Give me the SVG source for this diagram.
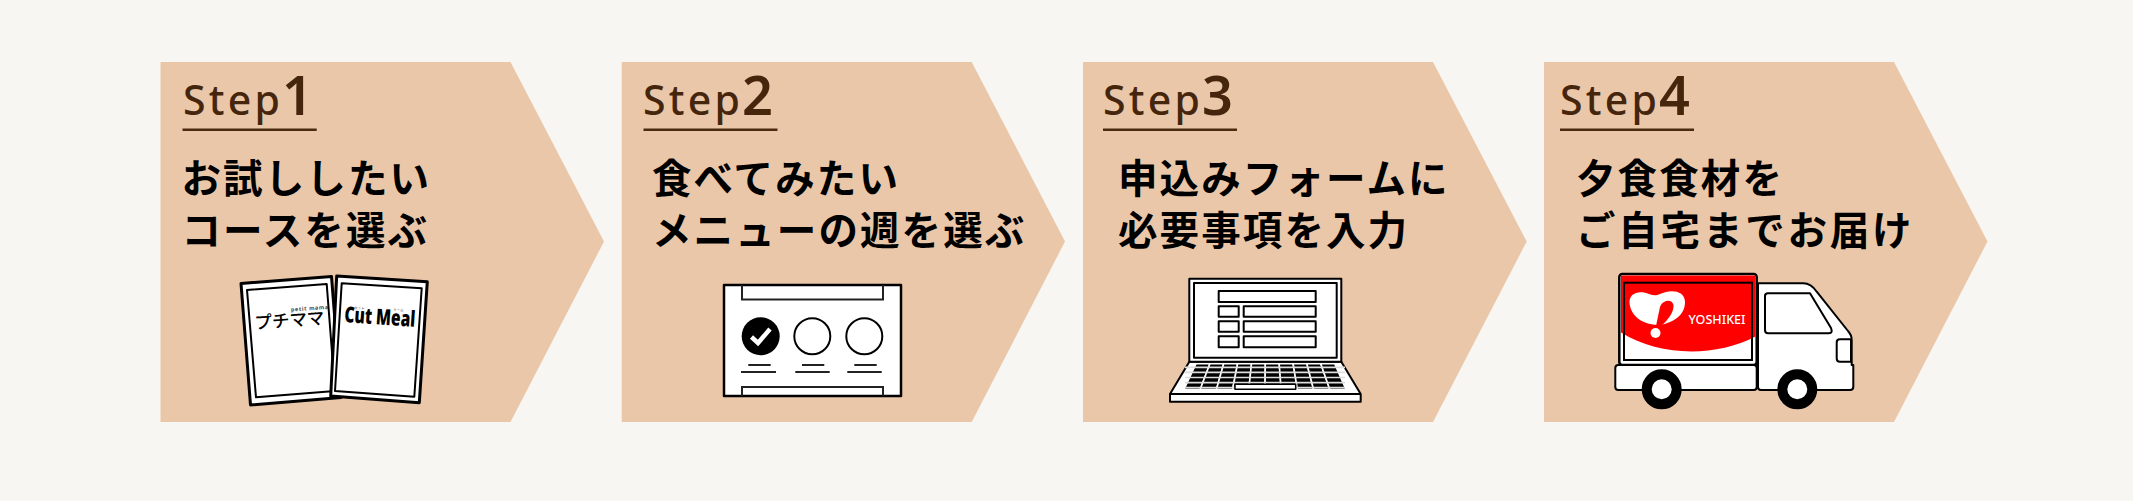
<svg xmlns="http://www.w3.org/2000/svg" width="2133" height="501" viewBox="0 0 2133 501">
<defs>
<style>
.arrow{fill:#ebc7a9}
.step{font-family:"Noto Sans","Liberation Sans",sans-serif;font-size:41px;font-weight:500;letter-spacing:3.200px;fill:#45260d}
.num{font-size:54px;font-weight:600;letter-spacing:0}
.rule{stroke:#4a2a10;stroke-width:2.400;fill:none}
.title{font-family:"Noto Sans CJK JP","Noto Sans",sans-serif;font-size:39.500px;font-weight:700;letter-spacing:2.100px;fill:#000}
.ln{fill:#fff;stroke:#000;stroke-width:2;stroke-linejoin:round}
.bar{stroke:#222;stroke-width:2;fill:none}
.key{fill:#000;stroke:#fff;stroke-width:1.600}
</style>
</defs>
<rect width="2133" height="501" fill="#f7f6f2"/>

<g id="step1">
<path class="arrow" d="M160.500 62H510.500L604 241.500L510.500 422H160.500Z"/>
<text class="step" x="183" y="115">Step<tspan class="num" dx="-1">1</tspan></text>
<path class="rule" d="M182.500 129.700H316.700"/>
<text class="title" x="181.500" y="193">お試ししたい</text>
<text class="title" x="181.500" y="245">コースを選ぶ</text>
<g id="icon-courses">
<polygon class="ln" style="stroke-width:3" points="241,283.500 331.500,276.500 341,397.500 250.500,405"/>
<polygon class="ln" points="247,290 326.700,284 335,391 256,397.300"/>
<polygon class="ln" style="stroke-width:3" points="336.700,276 427.300,281.700 419.300,402.700 330.700,396"/>
<polygon class="ln" points="341.700,283.300 421.700,288.300 414.300,396.700 335,391"/>
<text transform="translate(255,329) rotate(-4)" font-family="'Noto Sans CJK JP',sans-serif" font-size="17.500" font-weight="500" fill="#000">プチママ</text>
<text transform="translate(291,311.500) rotate(-4)" font-family="'Noto Sans',sans-serif" font-size="5.500" font-weight="700" letter-spacing="0.600" fill="#444">petit mama</text>
<text transform="translate(344,322) rotate(4)" font-family="'Open Sans',sans-serif" font-size="22" font-weight="800" textLength="71" lengthAdjust="spacingAndGlyphs" fill="#000">Cut Meal</text>
<text transform="translate(354,309) rotate(4)" font-family="'Noto Sans CJK JP',sans-serif" font-size="3.500" fill="#333">カット</text>
<text transform="translate(393,311) rotate(4)" font-family="'Noto Sans CJK JP',sans-serif" font-size="3.500" fill="#333">ミール</text>
</g>
</g>

<g id="step2">
<path class="arrow" d="M621.700 62H971.700L1065 241.500L971.700 422H621.700Z"/>
<text class="step" x="643" y="115">Step<tspan class="num" dx="-1">2</tspan></text>
<path class="rule" d="M643.500 129.700H777.500"/>
<text class="title" x="652" y="193">食べてみたい</text>
<text class="title" x="652" y="245">メニューの週を選ぶ</text>
<g id="icon-menu">
<rect class="ln" style="stroke-width:2.500" x="724" y="285" width="177" height="111"/>
<path class="bar" d="M742 285V299.500H883V285M742 396V387H883V396"/>
<circle cx="760.700" cy="336.300" r="19"/>
<path d="M751.500 337L758 343L770 329" fill="none" stroke="#fff" stroke-width="4.500"/>
<circle cx="812.300" cy="336.300" r="18" fill="#fff" stroke="#000" stroke-width="2"/>
<circle cx="864.300" cy="336.300" r="18" fill="#fff" stroke="#000" stroke-width="2"/>
<path class="bar" d="M748.300 365H770.700M741 372H776M802 365H824.300M795.300 372H829.700M854.300 365H876.700M847.300 372H881.700"/>
</g>
</g>

<g id="step3">
<path class="arrow" d="M1083 62H1433L1526.700 241.500L1433 422H1083Z"/>
<text class="step" x="1103" y="115">Step<tspan class="num" dx="-1">3</tspan></text>
<path class="rule" d="M1103 129.700H1237"/>
<text class="title" x="1118" y="193">申込みフォームに</text>
<text class="title" x="1118" y="245">必要事項を入力</text>
<g id="icon-laptop">
<polygon class="ln" points="1189.300,361.700 1341.300,361.700 1360.700,394 1360.700,401.700 1170,401.700 1170,394"/>
<path d="M1170 394H1360.700" stroke="#000" stroke-width="2" fill="none"/>
<rect class="ln" x="1189.300" y="278.700" width="152" height="83"/>
<rect class="ln" x="1194" y="283" width="142.700" height="74.700"/>
<rect class="ln" x="1218.700" y="291" width="97" height="11"/>
<rect class="ln" x="1218.700" y="306.300" width="20" height="10.400"/>
<rect class="ln" x="1243.700" y="306.300" width="72" height="10.400"/>
<rect class="ln" x="1218.700" y="321.300" width="20" height="10.400"/>
<rect class="ln" x="1243.700" y="321.300" width="72" height="10.400"/>
<rect class="ln" x="1218.700" y="336.300" width="20" height="11"/>
<rect class="ln" x="1243.700" y="336.300" width="72" height="11"/>
<polygon class="key" points="1196,363.700 1209.900,363.700 1200.200,389.500 1184,389.500"/>
<polygon class="key" points="1209.900,363.700 1223.700,363.700 1216.400,389.500 1200.200,389.500"/>
<polygon class="key" points="1223.700,363.700 1237.600,363.700 1232.600,389.500 1216.400,389.500"/>
<polygon class="key" points="1237.600,363.700 1251.500,363.700 1248.800,389.500 1232.600,389.500"/>
<polygon class="key" points="1251.500,363.700 1265.300,363.700 1265,389.500 1248.800,389.500"/>
<polygon class="key" points="1265.300,363.700 1279.200,363.700 1281.200,389.500 1265,389.500"/>
<polygon class="key" points="1279.200,363.700 1293.100,363.700 1297.400,389.500 1281.200,389.500"/>
<polygon class="key" points="1293.100,363.700 1306.900,363.700 1313.600,389.500 1297.400,389.500"/>
<polygon class="key" points="1306.900,363.700 1320.800,363.700 1329.800,389.500 1313.600,389.500"/>
<polygon class="key" points="1320.800,363.700 1334.700,363.700 1346,389.500 1329.800,389.500"/>
<path d="M1185 367.300H1345M1185 372.400H1345M1185 377.500H1345M1185 382.600H1345M1185 387.700H1345" stroke="#ddd" stroke-width="1.700" fill="none"/>
<rect class="ln" style="stroke-width:1.500" x="1235" y="384.300" width="60.700" height="5"/>
</g>
</g>

<g id="step4">
<path class="arrow" d="M1544 62H1894L1987.500 241.500L1894 422H1544Z"/>
<text class="step" x="1560" y="115">Step<tspan class="num" dx="-1">4</tspan></text>
<path class="rule" d="M1560 129.700H1694"/>
<text class="title" x="1576" y="193">夕食食材を</text>
<text class="title" style="letter-spacing:2.800px" x="1576" y="245">ご自宅までお届け</text>
<g id="icon-truck">
<rect x="1619.300" y="274" width="137.400" height="91" rx="3" fill="#fff" stroke="#000" stroke-width="2.500"/>
<path d="M1621 332.500C1660 357 1716 357 1755.500 336.500V275.500H1621Z" fill="#f00"/>
<rect x="1624" y="282.700" width="128" height="77.300" fill="none" stroke="#000" stroke-width="2"/>
<path d="M1629.500 303C1629 294 1637 291 1644 292.500C1650 294 1654 297 1660 294C1670 289 1685 290 1685 302C1685 316 1672 323 1660 325C1645 325 1631 318 1629.500 303Z" fill="#fff"/>
<path d="M1656 326L1660 307C1662 300 1672 298 1673.500 305C1674 312 1668 320 1661 326Z" fill="#f00"/>
<circle cx="1655.500" cy="333" r="5" fill="#fff"/>
<text x="1688.500" y="323.500" font-family="'Noto Sans',sans-serif" font-size="13" font-weight="500" fill="#fff" textLength="57" lengthAdjust="spacingAndGlyphs">YOSHIKEI</text>
<rect class="ln" x="1615.300" y="365" width="141.400" height="25" rx="3"/>
<path class="ln" d="M1758 283.300H1803.300Q1811 283.300 1816.700 291.700L1848 331Q1851.700 335 1851.700 340V365H1853.300V387Q1853.300 390 1850 390H1761Q1758 390 1758 387Z"/>
<path class="ln" d="M1768 293.300H1810L1831 328Q1833 333.300 1829 333.300H1768Q1765 333.300 1765 330V296Q1765 293.300 1768 293.300Z"/>
<path class="ln" d="M1851 339.300H1840Q1836.700 339.300 1836.700 342.500V358.500Q1836.700 361.700 1840 361.700H1851Z"/>
<circle cx="1661.700" cy="389.300" r="15" fill="#fff" stroke="#000" stroke-width="10"/>
<circle cx="1797.300" cy="389.300" r="15" fill="#fff" stroke="#000" stroke-width="10"/>
</g>
</g>
</svg>
